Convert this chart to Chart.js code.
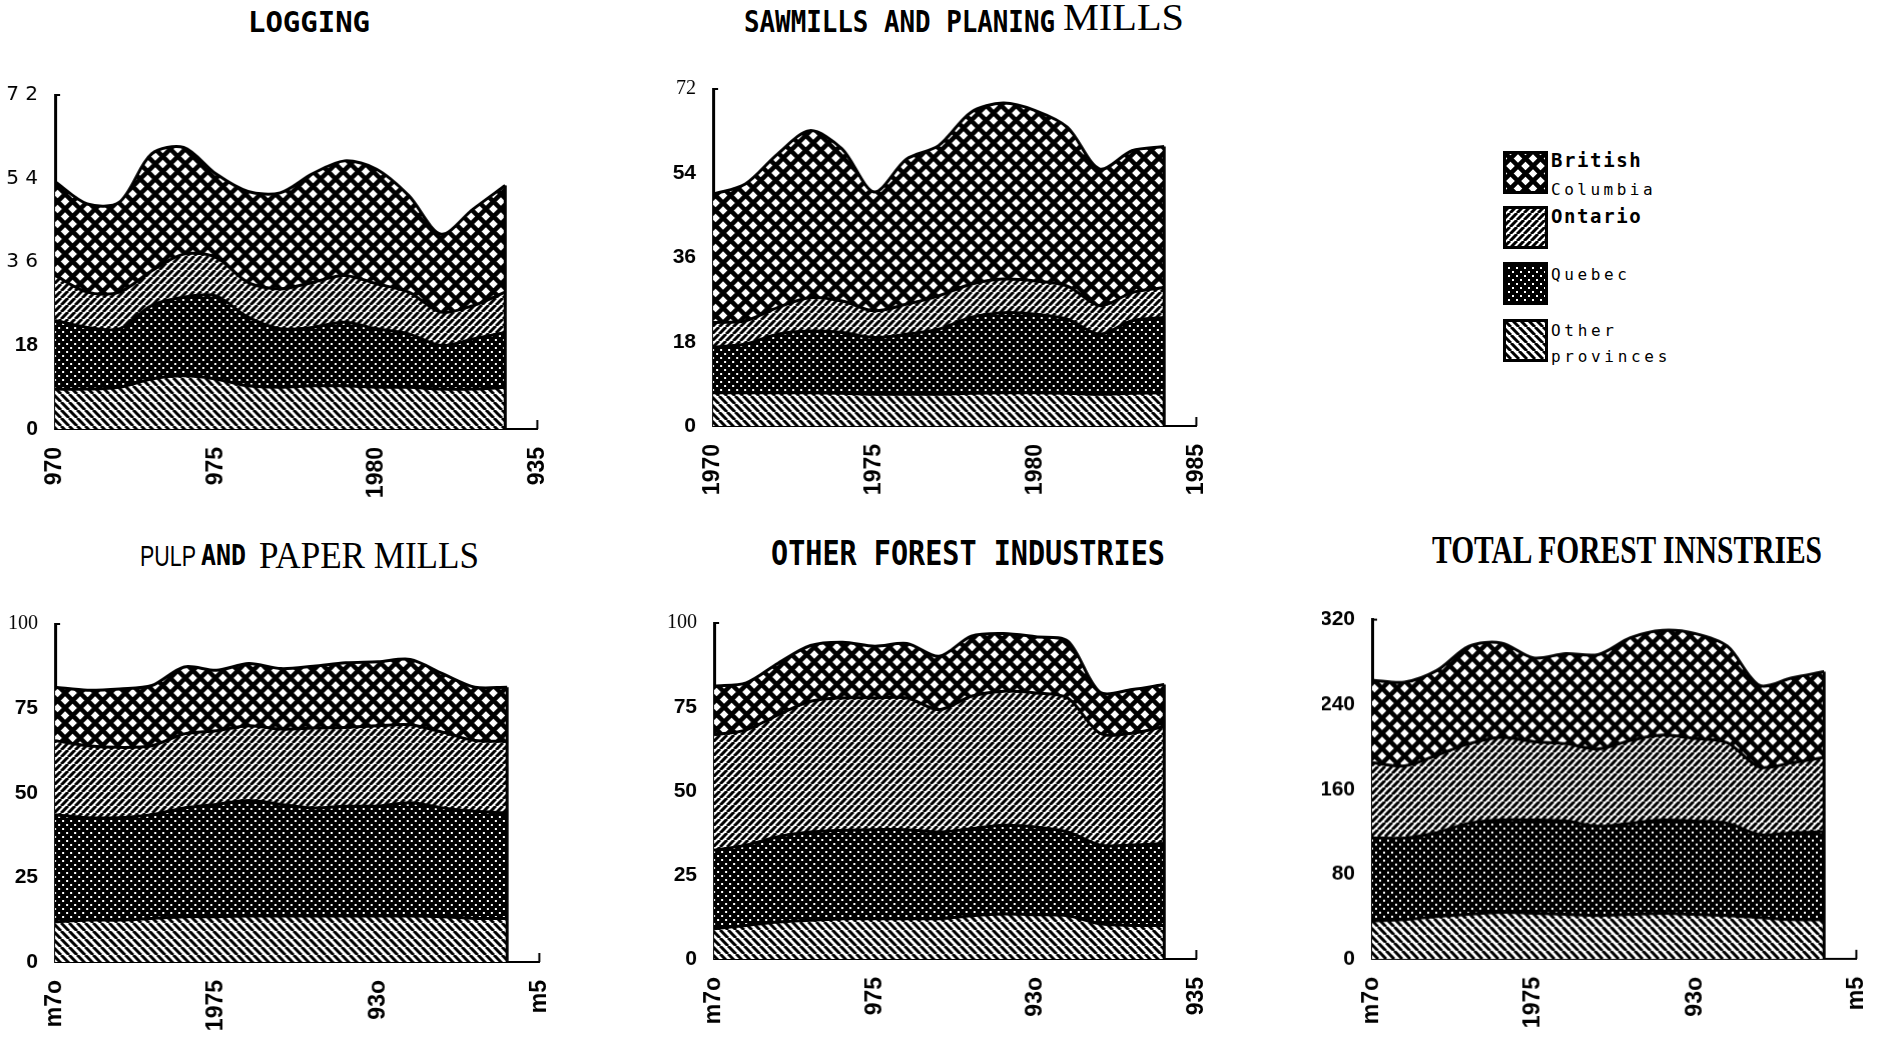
<!DOCTYPE html>
<html>
<head>
<meta charset="utf-8">
<script src="https://cdn.jsdelivr.net/npm/chart.js@4.4.1/dist/chart.umd.min.js"></script>
<style>
  body { margin: 0; background: #fff; width: 1879px; height: 1037px; overflow: hidden; position: relative; }
  canvas.chart { position: absolute; }
  .t { position: absolute; white-space: nowrap; line-height: 1; color: #000; transform-origin: 0 0; }
  .mono { font-family: 'DejaVu Sans Mono', monospace; font-weight: bold; }
  .serif { font-family: 'Liberation Serif', serif; }
  .leg { position: absolute; font-family: 'DejaVu Sans Mono', monospace; line-height: 1; color: #000; white-space: nowrap; }
  canvas.sw { position: absolute; }
</style>
</head>
<body>
<canvas class="chart" id="logging" width="540" height="430"></canvas>
<canvas class="chart" id="sawmills" width="540" height="430"></canvas>
<canvas class="chart" id="pulp" width="540" height="430"></canvas>
<canvas class="chart" id="otherForest" width="540" height="430"></canvas>
<canvas class="chart" id="total" width="540" height="430"></canvas>

<div class="t mono fit" data-w="122" data-sy="1.05" style="left:248px;top:8px;font-size:27px">LOGGING</div>
<div class="t mono fit" data-w="311" data-sy="1.26" style="left:744px;top:7px;font-size:24px">SAWMILLS AND PLANING</div>
<div class="t serif fit" data-w="121" style="left:1063px;top:-1px;font-size:37px">MILLS</div>
<div class="t fit" data-w="56" style="left:140px;top:541px;font-size:30px;font-family:'Liberation Sans'">PULP</div>
<div class="t mono fit" data-w="45" data-sy="1.3" style="left:201px;top:542px;font-size:22px">AND</div>
<div class="t serif fit" data-w="220" style="left:259px;top:537px;font-size:37px">PAPER MILLS</div>
<div class="t mono fit" data-w="394" data-sy="1.27" style="left:771px;top:536px;font-size:27px">OTHER FOREST INDUSTRIES</div>
<div class="t serif fit" data-w="390" style="left:1432px;top:530px;font-size:39px;font-weight:bold">TOTAL FOREST INNSTRIES</div>

<canvas class="sw" id="sw0" width="45" height="43" style="left:1503px;top:151px"></canvas>
<canvas class="sw" id="sw1" width="45" height="43" style="left:1503px;top:206px"></canvas>
<canvas class="sw" id="sw2" width="45" height="43" style="left:1503px;top:262px"></canvas>
<canvas class="sw" id="sw3" width="45" height="43" style="left:1503px;top:319px"></canvas>
<div class="leg" style="left:1551px;top:151px;font-size:19px;font-weight:bold;letter-spacing:1.6px">British</div>
<div class="leg" style="left:1551px;top:182px;font-size:16px;letter-spacing:3.5px">Columbia</div>
<div class="leg" style="left:1551px;top:207px;font-size:19px;font-weight:bold;letter-spacing:1.6px">Ontario</div>
<div class="leg" style="left:1551px;top:267px;font-size:16px;letter-spacing:3.6px">Quebec</div>
<div class="leg" style="left:1551px;top:323px;font-size:16px;letter-spacing:3.7px">Other</div>
<div class="leg" style="left:1551px;top:349px;font-size:16px;letter-spacing:3.7px">provinces</div>

<script>
// x categories (data runs 1970-1984, axis runs to 1985)
const years = ['1970','1971','1972','1973','1974','1975','1976','1977','1978','1979','1980','1981','1982','1983','1984','1985'];
const provinces = ['Other provinces', 'Quebec', 'Ontario', 'British Columbia'];

// Logging
const logOther   = [8.6, 8.6, 9.0, 10.8, 11.5, 10.8, 9.3, 9.0, 9.3, 9.3, 9.0, 9.0, 8.6, 8.6, 9.0];
const logQuebec  = [14.8, 13.3, 12.6, 15.8, 16.9, 17.9, 14.8, 12.6, 12.6, 13.7, 12.6, 11.5, 9.4, 10.8, 11.8];
const logOntario = [9.7, 7.6, 7.9, 7.5, 9.3, 8.3, 7.5, 8.6, 9.7, 10.1, 9.7, 9.0, 7.2, 7.2, 8.7];
const logBC      = [20.2, 19.0, 19.4, 25.2, 23.0, 18.0, 19.6, 20.7, 23.4, 24.7, 24.7, 20.8, 16.8, 20.8, 23.0];
const logYTicks  = ['0', '18', '3 6', '5 4', '7 2'];
const logXTicks  = ['970', '975', '1980', '935'];

// Sawmills and planing mills
const sawOther   = [7.1, 7.1, 7.1, 7.1, 7.0, 6.8, 6.8, 6.8, 7.0, 7.1, 7.1, 7.0, 6.8, 7.0, 7.1];
const sawQuebec  = [9.7, 10.4, 12.5, 13.2, 13.0, 12.1, 12.8, 13.9, 16.2, 17.1, 16.8, 15.8, 12.8, 15.5, 16.1];
const sawOntario = [5.3, 5.0, 5.7, 7.1, 6.7, 5.7, 6.4, 7.1, 7.1, 7.2, 7.1, 7.1, 6.1, 6.0, 6.4];
const sawBC      = [27.4, 29.2, 32.8, 35.7, 32.5, 25.4, 31.0, 32.1, 36.7, 37.6, 36.4, 33.9, 29.2, 30.3, 30.1];
const sawYTicks  = ['0', '18', '36', '54', '72'];
const sawXTicks  = ['1970', '1975', '1980', '1985'];

// Pulp and paper mills
const pulpOther   = [11.9, 12.4, 12.4, 12.9, 13.4, 13.4, 13.6, 13.6, 13.6, 13.6, 13.6, 13.6, 13.4, 12.9, 12.9];
const pulpQuebec  = [31.7, 30.3, 30.3, 30.7, 32.2, 33.2, 34.2, 33.0, 32.0, 32.5, 32.5, 33.5, 32.2, 31.7, 31.2];
const pulpOntario = [21.9, 21.3, 20.8, 20.4, 21.9, 21.8, 22.1, 22.3, 23.6, 23.3, 23.8, 23.1, 22.4, 20.9, 21.2];
const pulpBC      = [15.8, 16.4, 17.3, 17.8, 19.8, 17.9, 18.4, 17.9, 18.3, 19.1, 18.9, 19.3, 17.3, 15.8, 16.0];
const pulpYTicks  = ['0', '25', '50', '75', '100'];
const pulpXTicks  = ['m7o', '1975', '93o', 'm5'];

// Other forest industries
const ofiOther   = [9.0, 10.0, 11.0, 11.5, 12.0, 12.0, 12.0, 12.0, 12.9, 13.4, 13.2, 12.9, 10.5, 10.0, 10.0];
const ofiQuebec  = [23.4, 23.9, 25.4, 26.3, 26.3, 26.5, 26.5, 25.8, 25.9, 26.4, 26.1, 24.9, 23.4, 23.9, 24.4];
const ofiOntario = [34.3, 34.3, 36.3, 38.9, 39.4, 39.2, 39.2, 36.4, 39.4, 39.9, 39.9, 39.9, 33.3, 33.3, 34.8];
const ofiBC      = [14.5, 14.0, 15.4, 16.6, 16.6, 15.4, 16.2, 15.9, 17.9, 17.2, 16.7, 16.9, 12.2, 13.0, 12.5];
const ofiYTicks  = ['0', '25', '50', '75', '100'];
const ofiXTicks  = ['m7o', '975', '93o', '935'];

// Total forest industries
const totOther   = [36, 37, 40, 42, 44, 43, 42, 41, 42, 43, 42, 41, 39, 37, 37];
const totQuebec  = [78, 77, 79, 86, 87, 88, 88, 84, 86, 88, 88, 87, 78, 82, 83];
const totOntario = [71, 68, 73, 75, 78, 74, 73, 73, 78, 80, 78, 76, 64, 66, 70];
const totBC      = [78, 79, 80, 92, 89, 79, 85, 89, 97, 99, 99, 91, 77, 80, 81];
const totYTicks  = ['0', '80', '160', '240', '320'];
const totXTicks  = ['m7o', '1975', '93o', 'm5'];

// hatch fills, one per province (same order as provinces)
function makePattern(kind) {
  const s = { oth: 8, que: 8, ont: 7, bc: 15 }[kind];
  const t = document.createElement('canvas');
  t.width = t.height = s;
  const g = t.getContext('2d');
  g.fillStyle = kind === 'que' ? '#000' : '#fff';
  g.fillRect(0, 0, s, s);
  g.strokeStyle = '#000';
  if (kind === 'que') {
    g.fillStyle = '#fff';
    g.fillRect(1, 1, 2, 2);
    g.fillRect(5, 5, 2, 2);
  } else {
    g.lineWidth = kind === 'bc' ? 4.5 : 3;
    g.beginPath();
    for (let k = -1; k <= 1; k++) {
      if (kind === 'oth' || kind === 'bc') { g.moveTo(k * s, 0); g.lineTo(k * s + s, s); }
      if (kind === 'ont' || kind === 'bc') { g.moveTo(k * s, s); g.lineTo(k * s + s, 0); }
    }
    g.stroke();
  }
  return g.createPattern(t, 'repeat');
}
const patterns = ['oth', 'que', 'ont', 'bc'].map(makePattern);

// right-hand edge of the stack and the little end marks on the axes
const edgePlugin = {
  id: 'edges',
  afterDatasetsDraw(chart) {
    const c = chart.ctx, y = chart.scales.y, x = chart.scales.x;
    const pts = chart.getDatasetMeta(chart.data.datasets.length - 1).data;
    const last = pts[pts.length - 1];
    c.save();
    c.strokeStyle = '#000';
    c.lineWidth = 3;
    c.beginPath(); c.moveTo(last.x, y.bottom); c.lineTo(last.x, last.y); c.stroke();
    c.lineWidth = 2;
    c.beginPath(); c.moveTo(x.right, y.bottom); c.lineTo(x.right, y.bottom - 9); c.stroke();
    c.beginPath(); c.moveTo(x.left, y.top); c.lineTo(x.left + 5, y.top); c.stroke();
    c.restore();
  }
};

function buildChart(id, series, yMax, yStep, yTicks, xTicks, light) {
  const ctx = document.getElementById(id).getContext('2d');
  return new Chart(ctx, {
    type: 'line',
    data: {
      labels: years,
      datasets: series.map((s, i) => ({
        label: provinces[i],
        data: s,
        backgroundColor: patterns[i],
        borderColor: '#000',
        borderWidth: 3,
        pointRadius: 0,
        tension: 0.3,
        fill: i === 0 ? 'origin' : '-1',
      })),
    },
    options: {
      animation: false,
      responsive: false,
      maintainAspectRatio: false,
      devicePixelRatio: 1,
      layout: { padding: 0 },
      plugins: { legend: { display: false }, tooltip: { enabled: false } },
      scales: {
        x: {
          grid: { display: false },
          border: { color: '#000', width: 2 },
          ticks: {
            autoSkip: false, minRotation: 90, maxRotation: 90, padding: 10, color: '#000',
            font: { family: 'Liberation Sans', size: 23, weight: 'bold' },
            callback: (v, i) => (i % 5 === 0 ? xTicks[i / 5] : ''),
          },
          afterFit: s => { s.height = 80; },
        },
        y: {
          stacked: true, min: 0, max: yMax,
          grid: { display: false },
          border: { color: '#000', width: 3 },
          ticks: {
            stepSize: yStep, padding: 9, color: '#000',
            font: c => (light.idx.includes(c.index)
              ? { family: light.family, size: 20, weight: 'normal' }
              : { family: 'Liberation Sans', size: 21, weight: 'bold' }),
            callback: v => yTicks[Math.round(v / yStep)],
          },
          afterFit: s => { s.width = 50; },
        },
      },
    },
    plugins: [edgePlugin],
  });
}

// build, then size and move the canvas so the plot area sits where it does in the picture
function placeChart(id, box, ...args) {
  const cv = document.getElementById(id);
  let ch = buildChart(id, ...args);
  const a = ch.chartArea;
  const w = cv.width + (box.r - box.l) - (a.right - a.left);
  const h = cv.height + (box.b - box.t) - (a.bottom - a.top);
  ch.destroy();
  cv.width = w;
  cv.height = h;
  cv.style.width = w + 'px';
  cv.style.height = h + 'px';
  ch = buildChart(id, ...args);
  cv.style.left = (box.l - ch.chartArea.left) + 'px';
  cv.style.top = (box.t - ch.chartArea.top) + 'px';
  return ch;
}

placeChart('logging', { l: 55, r: 537, t: 95, b: 429 },
  [logOther, logQuebec, logOntario, logBC], 72, 18, logYTicks, logXTicks, { idx: [2, 3, 4], family: 'DejaVu Sans' });
placeChart('sawmills', { l: 713, r: 1196, t: 89, b: 426 },
  [sawOther, sawQuebec, sawOntario, sawBC], 72, 18, sawYTicks, sawXTicks, { idx: [4], family: 'Liberation Serif' });
placeChart('pulp', { l: 55, r: 539, t: 624, b: 962 },
  [pulpOther, pulpQuebec, pulpOntario, pulpBC], 100, 25, pulpYTicks, pulpXTicks, { idx: [4], family: 'Liberation Serif' });
placeChart('otherForest', { l: 714, r: 1196, t: 623, b: 959 },
  [ofiOther, ofiQuebec, ofiOntario, ofiBC], 100, 25, ofiYTicks, ofiXTicks, { idx: [4], family: 'Liberation Serif' });
placeChart('total', { l: 1372, r: 1856, t: 620, b: 959 },
  [totOther, totQuebec, totOntario, totBC], 320, 80, totYTicks, totXTicks, { idx: [], family: 'Liberation Sans' });

// legend swatches
patterns.slice().reverse().forEach((p, i) => {
  const g = document.getElementById('sw' + i).getContext('2d');
  g.fillStyle = p;
  g.fillRect(0, 0, 45, 43);
  g.strokeStyle = '#000';
  g.lineWidth = 3;
  g.strokeRect(1.5, 1.5, 42, 40);
});

// squeeze titles to the widths they take in the picture
document.querySelectorAll('.fit').forEach(el => {
  const w = el.getBoundingClientRect().width;
  const sx = Number(el.dataset.w) / w;
  const sy = Number(el.dataset.sy || 1);
  el.style.transform = `scale(${sx}, ${sy})`;
});
</script>
</body>
</html>
